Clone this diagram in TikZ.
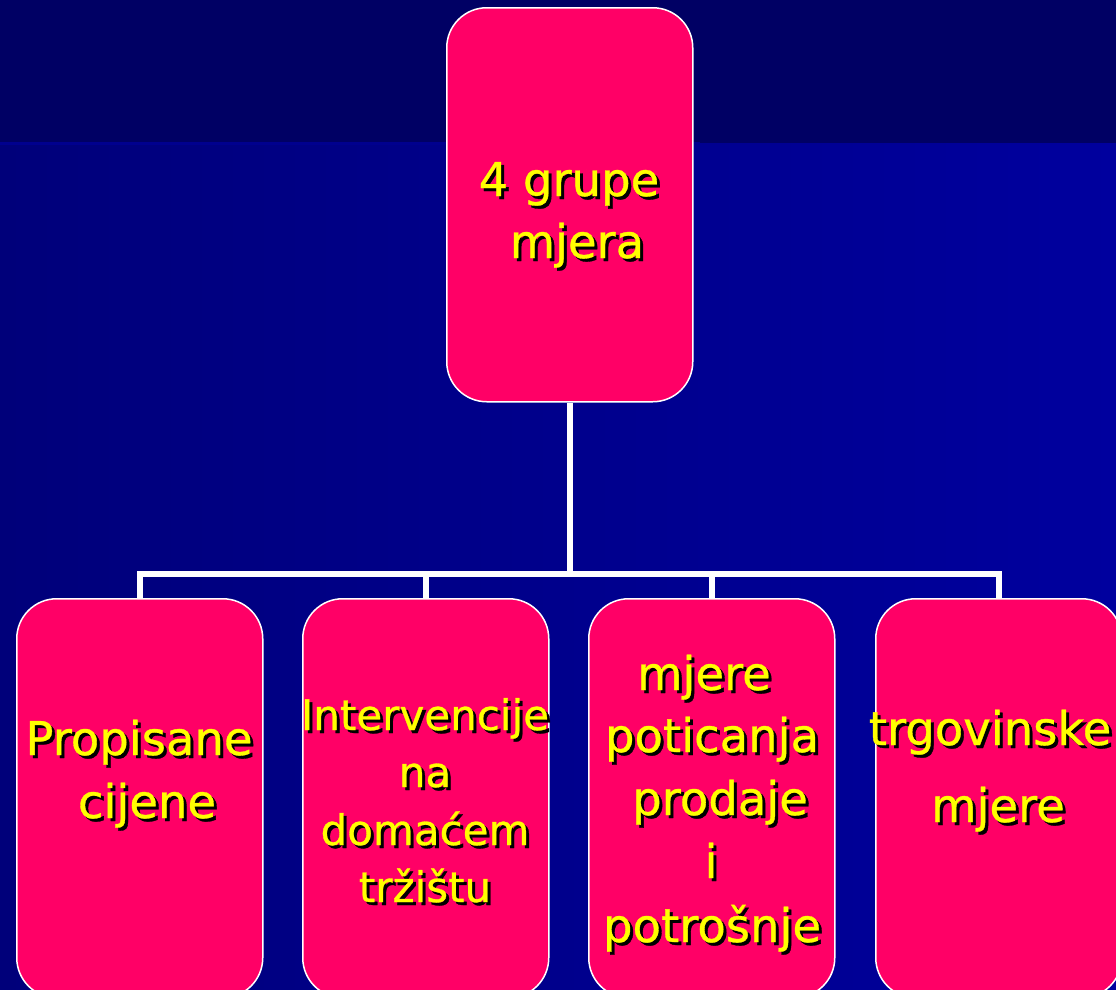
\documentclass[tikz,border=0pt]{standalone}
\usepackage{fontspec}
\setmainfont{DejaVu Sans}
\newfontfamily\tfont{DejaVu Sans}[FakeBold=0.7]
\definecolor{boxred}{HTML}{FF0066}
\definecolor{txtyellow}{HTML}{FFFF00}
\definecolor{topband}{HTML}{000064}
\definecolor{bgleft}{HTML}{00007A}
\definecolor{bgright}{HTML}{00009E}
\definecolor{bgline}{HTML}{00008E}
\newcommand\shadowed[1]{\makebox[0pt][l]{\hspace{3pt}\raisebox{-3pt}{\color{black}#1}}\color{txtyellow}#1}
\newcommand\ylab[5][]{%
  \node[lbl,#1] (#5) at (#2,#3) {\shadowed{#4}};}
\begin{document}
\begin{tikzpicture}[x=1pt,y=-1pt,
  box/.style={draw=white, line width=1.5pt, fill=boxred, rounded corners=40pt,
              minimum width=246pt, anchor=north west, inner sep=0pt},
  conn/.style={draw=white, line width=5.5pt, line join=miter},
  lbl/.style={anchor=base, inner sep=0pt, font=\tfont\fontsize{46.5}{56}\selectfont},
  small/.style={font=\tfont\fontsize{42}{50}\selectfont}]
\useasboundingbox (0,0) rectangle (1116,989);
\clip (0,0) rectangle (1116,989);
% background
\shade[left color=bgleft, right color=bgright] (0,143) rectangle (1116,989);
\fill[topband] (0,0) rectangle (1116,143);
\fill[bgline] (0,142) rectangle (700,145);
% boxes
\node[box, minimum height=394pt] (top) at (446,7) {};
\node[box, minimum height=399pt] (b1) at (16,598) {};
\node[box, minimum height=399pt] (b2) at (302,598) {};
\node[box, minimum height=399pt] (b3) at (588,598) {};
\node[box, minimum height=399pt] (b4) at (875,598) {};
% connectors
\path (b1.north) ++(0,-24) coordinate (j1);
\path (b2.north) ++(0,-24) coordinate (j2);
\path (b3.north) ++(0,-24) coordinate (j3);
\path (b4.north) ++(0,-24) coordinate (j4);
\draw[conn] (b1.north) -- (j1) -- (j4) -- (b4.north);
\draw[conn] (j2) -- (b2.north);
\draw[conn] (j3) -- (b3.north);
\draw[conn] (top.south) -- (top.south |- j1);
% texts
\ylab{569}{196}{4 grupe}{t1}
\ylab{577}{258}{mjera}{t2}
\ylab{139}{755}{Propisane}{p1}
\ylab{147}{818}{cijene}{p2}
\ylab[small]{425}{730}{Intervencije}{i1}
\ylab[small]{425}{787}{na}{i2}
\ylab[small]{425}{845}{domaćem}{i3}
\ylab[small]{425}{902}{tržištu}{i4}
\ylab{704}{690}{mjere}{m1}
\ylab{712}{752}{poticanja}{m2}
\ylab{720}{815}{prodaje}{m3}
\ylab{711}{878}{i}{m4}
\ylab{712}{942}{potrošnje}{m5}
\ylab{990}{745}{trgovinske}{g1}
\ylab{998}{822}{mjere}{g2}
\end{tikzpicture}
\end{document}
